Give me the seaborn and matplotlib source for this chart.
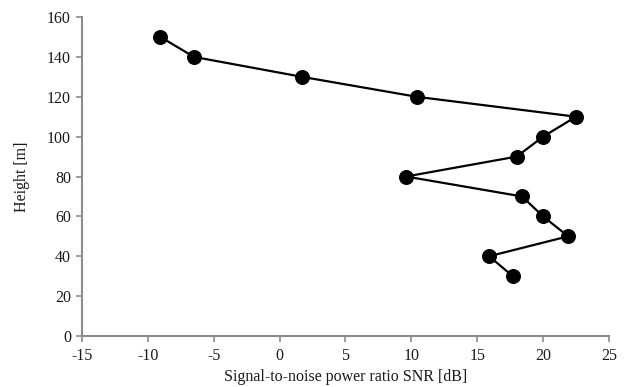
import matplotlib
matplotlib.use("Agg")
import matplotlib.pyplot as plt
import seaborn as sns
import pandas as pd

snr_db = [-9.05, -6.5, 1.7, 10.4, 22.5, 20.0, 18.0, 9.6, 18.4, 20.0, 21.9, 15.9, 17.7]
height_m = [150, 140, 130, 120, 110, 100, 90, 80, 70, 60, 50, 40, 30]
x_ticks = [-15, -10, -5, 0, 5, 10, 15, 20, 25]
y_ticks = [0, 20, 40, 60, 80, 100, 120, 140, 160]

df = pd.DataFrame({"snr": snr_db, "height": height_m})

sns.set_style("white")
plt.rcParams["font.family"] = ["Liberation Serif", "DejaVu Serif"]

fig = plt.figure(figsize=(6.28, 3.87), dpi=100)
ax = fig.add_axes([0.1306, 0.1318, 0.8391, 0.8242])

sns.lineplot(data=df, x="snr", y="height", sort=False, estimator=None,
             color="black", linewidth=1.6, marker="o", markersize=10,
             markeredgecolor="black", markerfacecolor="black", ax=ax)

ax.set_xlim(-15, 25)
ax.set_ylim(0, 160)
ax.set_xticks(x_ticks)
ax.set_yticks(y_ticks)
ax.set_xticklabels([str(t) for t in x_ticks])
ax.set_yticklabels([str(t) for t in y_ticks])

for s in ["top", "right"]:
    ax.spines[s].set_visible(False)
for s in ["left", "bottom"]:
    ax.spines[s].set_color("#8c8c8c")
    ax.spines[s].set_linewidth(1.5)

ax.tick_params(axis="both", direction="out", length=4, width=1.2,
               bottom=True, left=True,
               color="#8c8c8c", labelsize=11.5, labelcolor="#1a1a1a", pad=4)
ax.tick_params(axis="x", pad=5)

ax.set_xlabel("Signal-to-noise power ratio SNR [dB]", fontsize=11.5, color="#1a1a1a", labelpad=3)
ax.set_ylabel("Height [m]", fontsize=11.5, color="#1a1a1a", labelpad=12)

fig.savefig("out.png", dpi=100)
